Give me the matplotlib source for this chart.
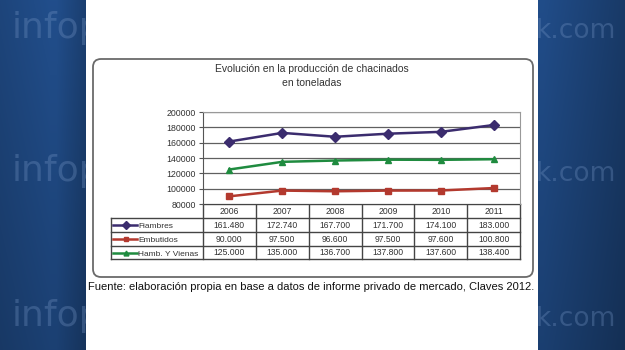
import numpy as np
import matplotlib
matplotlib.use("Agg")
import matplotlib.pyplot as plt
from matplotlib.patches import FancyBboxPatch, Rectangle
from matplotlib.lines import Line2D

# ---- data ----
years = ["2006", "2007", "2008", "2009", "2010", "2011"]
series_names = ["Fiambres", "Embutidos", "Hamb. Y Vienas"]
fiambres = [161480, 172740, 167700, 171700, 174100, 183000]
embutidos = [90000, 97500, 96600, 97500, 97600, 100800]
hamb = [125000, 135000, 136700, 137800, 137600, 138400]
y_ticks = [80000, 100000, 120000, 140000, 160000, 180000, 200000]
title = "Evolución en la producción de chacinados\nen toneladas"
source = "Fuente: elaboración propia en base a datos de informe privado de mercado, Claves 2012."

colors = ["#3b2c6e", "#b3392e", "#1f8b3f"]
markers = ["D", "s", "^"]
msizes = [5.5, 4.5, 5]

W, H = 625, 350
fig = plt.figure(figsize=(W / 100, H / 100), dpi=100)

# background axes in pixel coordinates
bg = fig.add_axes([0, 0, 1, 1])
bg.set_xlim(0, W)
bg.set_ylim(H, 0)
bg.axis("off")

# blue gradient background
xx = np.linspace(0, 1, W)
yy = np.linspace(0, 1, H)
X, Y = np.meshgrid(xx, yy)
base = np.array([0x20, 0x4b, 0x86]) / 255.0
shade = 1.0 - 0.18 * Y
edge = np.where(X < 0.14,
                0.92 + 0.12 * np.clip(X / 0.08, 0, 1) - 0.22 * np.clip((X - 0.09) / 0.05, 0, 1),
                1.02 - 0.25 * np.clip((X - 0.87) / 0.13, 0, 1))
img = base[None, None, :] * (shade * edge)[:, :, None]
img = np.clip(img, 0, 1)
bg.imshow(img, extent=[0, W, H, 0], aspect="auto", zorder=0)

# watermark
for yb in [38, 181, 326]:
    bg.text(12, yb, "infop", fontsize=26, color="#7595c4", alpha=0.33,
            family="DejaVu Sans", va="baseline", ha="left", zorder=1)
    bg.text(536, yb, "k.com", fontsize=19, color="#7595c4", alpha=0.33,
            family="DejaVu Sans", va="baseline", ha="left", zorder=1)

# white panel
bg.add_patch(Rectangle((86, 0), 452, H, facecolor="white", edgecolor="none", zorder=2))

# rounded chart box
bg.add_patch(FancyBboxPatch((93, 59), 440, 218, boxstyle="round,pad=0,rounding_size=8",
                            facecolor="white", edgecolor="#6a6a6a", linewidth=1.3, zorder=3))

# title
bg.text(312, 76, title, ha="center", va="center", fontsize=7.5, color="#333333",
        family="Liberation Sans", linespacing=1.4, zorder=4)

# plot area
PL, PR, PT, PB = 203, 520, 112, 204
ax = fig.add_axes([PL / W, 1 - PB / H, (PR - PL) / W, (PB - PT) / H])
ax.set_zorder(5)
ax.set_facecolor("white")
xs = np.arange(len(years))
for vals, c, m, ms in zip([fiambres, embutidos, hamb], colors, markers, msizes):
    ax.plot(xs, vals, color=c, lw=1.8, marker=m, markersize=ms, zorder=3)
ax.set_xlim(-0.5, len(years) - 0.5)
ax.set_ylim(y_ticks[0], y_ticks[-1])
ax.set_yticks(y_ticks)
ax.set_yticklabels([str(t) for t in y_ticks], fontsize=6.3, color="#333333", family="Liberation Sans")
ax.set_xticks([])
ax.yaxis.grid(True, color="#606060", lw=0.9)
ax.set_axisbelow(True)
ax.tick_params(axis="y", length=3, width=0.8, color="#555555", pad=2)
for s in ["top", "right"]:
    ax.spines[s].set_color("#999999")
    ax.spines[s].set_linewidth(0.8)
ax.spines["left"].set_color("#555555")
ax.spines["bottom"].set_visible(False)

# data table
TL = 111
rows_y = [204, 217.5, 231.5, 245.5, 259]
colw = (PR - PL) / len(years)
lc = "#444444"
lw = 1.0
bg.plot([PL, PR], [rows_y[0], rows_y[0]], color=lc, lw=lw, zorder=6)
for yv in rows_y[1:]:
    bg.plot([TL, PR], [yv, yv], color=lc, lw=lw, zorder=6)
for i in range(len(years) + 1):
    xv = PL + i * colw
    bg.plot([xv, xv], [rows_y[0], rows_y[-1]], color=lc, lw=lw, zorder=6)
bg.plot([TL, TL], [rows_y[1], rows_y[-1]], color=lc, lw=lw, zorder=6)

for i, yr in enumerate(years):
    bg.text(PL + (i + 0.5) * colw, (rows_y[0] + rows_y[1]) / 2 + 0.5, yr, ha="center", va="center",
            fontsize=6.2, color="#333333", family="Liberation Sans", zorder=7)

def fmt(v):
    return f"{v:,}".replace(",", ".")

for r, (name, vals, c, m, ms) in enumerate(zip(series_names, [fiambres, embutidos, hamb], colors, markers, msizes)):
    yc = (rows_y[r + 1] + rows_y[r + 2]) / 2 + 0.5
    bg.add_line(Line2D([113, 137], [yc, yc], color=c, lw=1.8, zorder=7))
    bg.add_line(Line2D([125.5], [yc], color=c, marker=m, markersize=ms - 1.5, zorder=7))
    bg.text(138.5, yc + 3, name, ha="left", va="baseline", fontsize=6, color="#333333",
            family="Liberation Sans", zorder=7)
    for i, v in enumerate(vals):
        bg.text(PL + (i + 0.5) * colw, yc, fmt(v), ha="center", va="center",
                fontsize=6.2, color="#333333", family="Liberation Sans", zorder=7)

# source note, fitted to width
t = bg.text(88, 287, source, ha="left", va="center", fontsize=8.4, color="#111111",
            family="Liberation Sans", zorder=7)
fig.canvas.draw()
bb = t.get_window_extent()
target = 532 - 88
t.set_fontsize(8.4 * target / bb.width)

fig.savefig("out.png", dpi=100)
